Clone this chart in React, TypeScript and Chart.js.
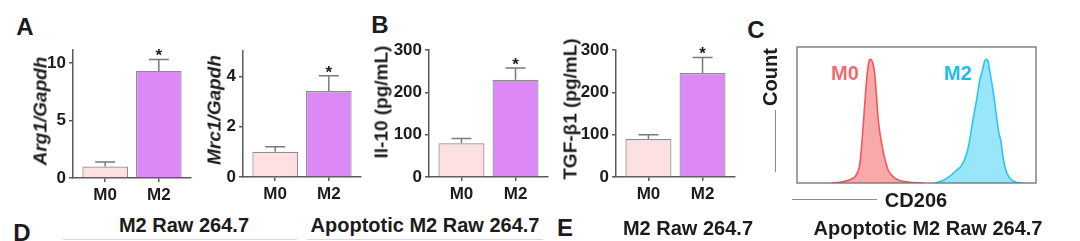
import React, { useEffect, useRef } from 'react';
import { Chart, registerables } from 'chart.js';

Chart.register(...registerables);

// ---------- data ----------
const categories = ['M0', 'M2'];
const significant = [false, true];

const arg1Mean = [1.0, 9.3];
const arg1Sd = [0.38, 1.0];
const arg1Ticks = [0, 5, 10];

const mrc1Mean = [1.0, 3.42];
const mrc1Sd = [0.2, 0.6];
const mrc1Ticks = [0, 2, 4];

const il10Mean = [80, 230];
const il10Sd = [11, 28];

const tgfMean = [90, 246];
const tgfSd = [10, 37];

const pgTicks = [0, 100, 200, 300];

// flow cytometry histogram (CD206 channel vs normalised count)
const m0Channel = [34.3, 42.7, 52.7, 57.7, 61, 62.7, 64.3, 66, 67.7, 69.3, 71, 72.7, 74.3, 76, 77.7, 79.3, 81, 82.7, 85.3, 87.7, 91, 94.3, 99.3, 106, 116, 126];
const m0Count = [0, 0.5, 2.7, 4.8, 9.4, 14.7, 26.8, 44, 63, 80.4, 93.8, 100, 99.7, 96.5, 88.5, 72.4, 53.6, 41.6, 29.5, 20, 10.7, 6.7, 3.2, 1.3, 0.3, 0];
const m2Channel = [137.7, 146, 152.7, 159.3, 164.3, 169.3, 172.7, 175.3, 177.7, 180, 182.7, 185.3, 187.7, 189.3, 191, 192.7, 195, 197.7, 200, 202, 203.7, 206, 208.7, 212.7, 217.7, 226];
const m2Count = [0, 2.1, 5.3, 10.1, 13.9, 22.7, 34.7, 48, 58.7, 69.3, 82.7, 90.7, 98.7, 100, 98.7, 90.7, 80, 65.3, 50.7, 40, 34.7, 21.3, 10.7, 4, 1.1, 0];

// ---------- styles ----------
const FONT = "'Liberation Sans', Arial, Helvetica, sans-serif";
const AXIS = '#5a5a5a';
const TEXT = '#1c1c1c';
const BAR_FILL = ['#fde0e2', '#dc88f6'];
const BAR_BORDER = '#8c8c8c';
const Y_W = 45;
const X_H = 30;
const PAD_TOP = 12;
const PAD_RIGHT = 6;

const errorBarPlugin = {
  id: 'errorBars',
  afterDatasetsDraw(chart: any, _args: any, opts: any) {
    const { ctx } = chart;
    const meta = chart.getDatasetMeta(0);
    const yScale = chart.scales.y;
    const data = chart.data.datasets[0].data;
    ctx.save();
    meta.data.forEach((bar: any, i: number) => {
      const x = bar.x;
      const yTop = bar.y;
      const yErr = yScale.getPixelForValue(data[i].y + opts.sd[i]);
      ctx.strokeStyle = '#7a7a7a';
      ctx.lineWidth = 1.5;
      ctx.beginPath();
      ctx.moveTo(x, yTop);
      ctx.lineTo(x, yErr);
      ctx.moveTo(x - 10, yErr);
      ctx.lineTo(x + 10, yErr);
      ctx.stroke();
      if (opts.sig[i]) {
        ctx.fillStyle = TEXT;
        ctx.font = `bold 17px ${FONT}`;
        ctx.textAlign = 'center';
        ctx.textBaseline = 'alphabetic';
        ctx.fillText('*', x, yErr + 2);
      }
    });
    ctx.restore();
  },
};

type BarProps = {
  left: number; right: number; top: number; bottom: number;
  means: number[]; sd: number[]; yMax: number; yTicks: number[];
};

function BarPanel({ left, right, top, bottom, means, sd, yMax, yTicks }: BarProps) {
  const ref = useRef<HTMLCanvasElement>(null);
  const w = Y_W + (right - left) + PAD_RIGHT;
  const h = PAD_TOP + (bottom - top) + X_H;
  useEffect(() => {
    const tickFont = { family: FONT, size: 17, weight: 'bold' as const };
    const chart = new Chart(ref.current as HTMLCanvasElement, {
      type: 'bar',
      data: {
        datasets: [{
          data: means.map((m, i) => ({ x: i, y: m })),
          backgroundColor: BAR_FILL,
          borderColor: BAR_BORDER,
          borderWidth: 1.2,
          barPercentage: 0.85,
          categoryPercentage: 1,
        }],
      },
      options: {
        animation: false,
        responsive: false,
        maintainAspectRatio: false,
        layout: { padding: { top: PAD_TOP, right: PAD_RIGHT, left: 0, bottom: 0 } },
        plugins: {
          legend: { display: false },
          tooltip: { enabled: false },
          errorBars: { sd, sig: significant },
        } as any,
        scales: {
          x: {
            type: 'linear',
            min: -0.6,
            max: 1.6,
            offset: false,
            afterBuildTicks: (s: any) => { s.ticks = categories.map((_, i) => ({ value: i })); },
            afterFit: (s: any) => { s.height = X_H; },
            ticks: { callback: (v: any) => categories[v], font: tickFont, color: TEXT, padding: 3, maxRotation: 0 },
            grid: { display: true, drawOnChartArea: false, drawTicks: true, tickLength: 4, color: AXIS, lineWidth: 1.5, offset: false },
            border: { display: true, color: AXIS, width: 1.5 },
          },
          y: {
            min: 0,
            max: yMax,
            afterBuildTicks: (s: any) => { s.ticks = yTicks.map((v) => ({ value: v })); },
            afterFit: (s: any) => { s.width = Y_W; },
            ticks: { font: tickFont, color: TEXT, padding: 3 },
            grid: { display: true, drawOnChartArea: false, drawTicks: true, tickLength: 4, color: AXIS, lineWidth: 1.5 },
            border: { display: true, color: AXIS, width: 1.5 },
          },
        },
      } as any,
      plugins: [errorBarPlugin],
    });
    return () => chart.destroy();
  }, []);
  return (
    <canvas
      ref={ref}
      width={w}
      height={h}
      style={{ position: 'absolute', left: left - Y_W, top: top - PAD_TOP, width: w, height: h }}
    />
  );
}

const framePlugin = {
  id: 'frame',
  afterDraw(chart: any) {
    const { ctx, chartArea } = chart;
    ctx.save();
    ctx.strokeStyle = '#6f6f6f';
    ctx.lineWidth = 1.3;
    ctx.strokeRect(chartArea.left, chartArea.top, chartArea.right - chartArea.left, chartArea.bottom - chartArea.top);
    ctx.restore();
  },
};

function Histogram() {
  const ref = useRef<HTMLCanvasElement>(null);
  const PAD = 10;
  const L = 797, T = 47, W = 239, H = 136;
  useEffect(() => {
    const chart = new Chart(ref.current as HTMLCanvasElement, {
      type: 'line',
      data: {
        datasets: [
          {
            data: m0Channel.map((x, i) => ({ x, y: m0Count[i] })),
            borderColor: 'rgb(246,86,92)',
            backgroundColor: 'rgba(248,128,130,0.68)',
            fill: 'origin',
            borderWidth: 1.6,
            pointRadius: 0,
            cubicInterpolationMode: 'monotone',
          },
          {
            data: m2Channel.map((x, i) => ({ x, y: m2Count[i] })),
            borderColor: 'rgb(38,200,240)',
            backgroundColor: 'rgba(110,220,250,0.7)',
            fill: 'origin',
            borderWidth: 1.6,
            pointRadius: 0,
            cubicInterpolationMode: 'monotone',
          },
        ],
      },
      options: {
        animation: false,
        responsive: false,
        maintainAspectRatio: false,
        layout: { padding: PAD },
        plugins: { legend: { display: false }, tooltip: { enabled: false } },
        scales: {
          x: { type: 'linear', min: 0, max: W, display: false },
          y: { min: 0, max: 110, display: false },
        },
      } as any,
      plugins: [framePlugin],
    });
    return () => chart.destroy();
  }, []);
  return (
    <canvas
      ref={ref}
      width={W + 2 * PAD}
      height={H + 2 * PAD}
      style={{ position: 'absolute', left: L - PAD, top: T - PAD, width: W + 2 * PAD, height: H + 2 * PAD }}
    />
  );
}

type TxtProps = { x: number; y: number; text: string; size: number; color?: string; rotate?: boolean; italic?: boolean };
function Txt({ x, y, text, size, color = TEXT, rotate, italic }: TxtProps) {
  return (
    <div
      style={{
        position: 'absolute', left: x, top: y,
        transform: `translate(-50%, -50%)${rotate ? ' rotate(-90deg)' : ''}`,
        fontFamily: FONT, fontSize: size, fontWeight: 'bold', fontStyle: italic ? 'italic' : 'normal',
        color, whiteSpace: 'nowrap', lineHeight: 1,
      }}
    >
      {text}
    </div>
  );
}

function Line({ x1, y1, x2, y2, color }: { x1: number; y1: number; x2: number; y2: number; color: string }) {
  return (
    <div style={{ position: 'absolute', left: x1, top: y1, width: Math.max(1, x2 - x1), height: Math.max(1, y2 - y1), background: color }} />
  );
}

export default function App() {
  return (
    <div style={{ position: 'absolute', left: 0, top: 0, width: 1080, height: 241, background: '#fff', overflow: 'hidden' }}>
      {/* panel letters */}
      <Txt x={25} y={27} text="A" size={24} />
      <Txt x={380} y={25} text="B" size={24} />
      <Txt x={756} y={30} text="C" size={24} />
      <Txt x={22} y={233} text="D" size={24} />
      <Txt x={565} y={228} text="E" size={24} />

      {/* A */}
      <BarPanel left={73} right={191} top={49} bottom={178} means={arg1Mean} sd={arg1Sd} yMax={11.1} yTicks={arg1Ticks} />
      <Txt x={40} y={111} text="Arg1/Gapdh" size={19} rotate italic />
      <BarPanel left={243} right={361} top={50} bottom={177} means={mrc1Mean} sd={mrc1Sd} yMax={5} yTicks={mrc1Ticks} />
      <Txt x={214} y={110} text="Mrc1/Gapdh" size={19} rotate italic />

      {/* B */}
      <BarPanel left={429} right={548} top={49} bottom={177} means={il10Mean} sd={il10Sd} yMax={300} yTicks={pgTicks} />
      <Txt x={381} y={102} text="Il-10 (pg/mL)" size={19} rotate />
      <BarPanel left={616} right={735} top={49} bottom={177} means={tgfMean} sd={tgfSd} yMax={300} yTicks={pgTicks} />
      <Txt x={570} y={109} text="TGF-β1 (pg/mL)" size={19} rotate />

      {/* C */}
      <Histogram />
      <Txt x={845} y={73} text="M0" size={20} color="rgb(246,104,106)" />
      <Txt x={958} y={73} text="M2" size={20} color="rgb(28,190,236)" />
      <Txt x={770} y={77} text="Count" size={20} rotate />
      <Line x1={775} y1={110} x2={776} y2={172} color="#8a8a8a" />
      <Txt x={916} y={200} text="CD206" size={20} />
      <Line x1={792} y1={199} x2={877} y2={200} color="#8a8a8a" />

      {/* D / E captions */}
      <Txt x={184} y={225} text="M2 Raw 264.7" size={20} />
      <Txt x={425} y={225} text="Apoptotic M2 Raw 264.7" size={20} />
      <Line x1={63} y1={239} x2={297} y2={240} color="#d8d8d8" />
      <Line x1={307} y1={239} x2={543} y2={240} color="#d8d8d8" />
      <Txt x={688} y={228} text="M2 Raw 264.7" size={20} />
      <Txt x={928} y={228} text="Apoptotic M2 Raw 264.7" size={20} />
    </div>
  );
}
